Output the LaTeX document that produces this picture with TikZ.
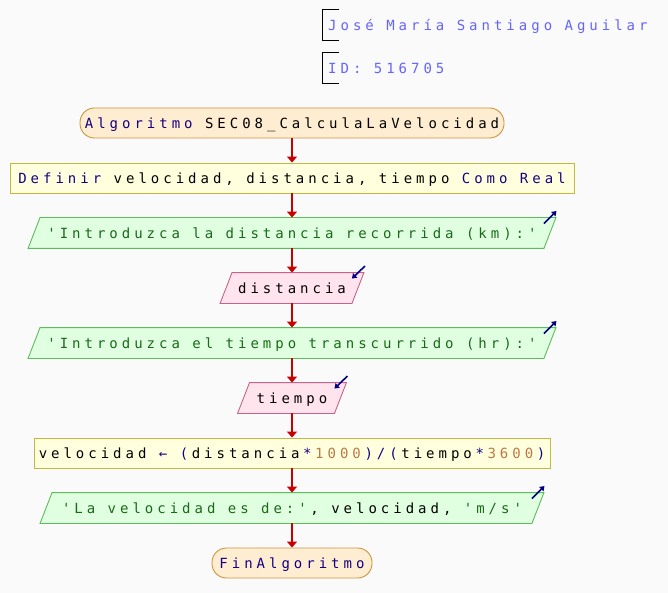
\documentclass[tikz,border=0pt]{standalone}
\usepackage{fontspec}
\setmonofont[LetterSpace=28.5]{DejaVu Sans Mono}
\usetikzlibrary{arrows.meta,backgrounds,calc}
\definecolor{bgc}{RGB}{250,250,250}
\definecolor{termfill}{RGB}{255,237,210}
\definecolor{termdraw}{RGB}{204,150,64}
\definecolor{procfill}{RGB}{255,255,221}
\definecolor{procdraw}{RGB}{192,186,64}
\definecolor{outfill}{RGB}{224,255,224}
\definecolor{outdraw}{RGB}{90,190,90}
\definecolor{infill}{RGB}{255,228,238}
\definecolor{indraw}{RGB}{196,100,140}
\definecolor{kwc}{RGB}{20,0,130}
\definecolor{strc}{RGB}{25,105,25}
\definecolor{numc}{RGB}{190,120,70}
\definecolor{cmtc}{RGB}{100,100,255}
\definecolor{flowc}{RGB}{200,0,0}
\definecolor{iconc}{RGB}{0,0,128}
\newcommand\kw[1]{\textcolor{kwc}{#1}}
\newcommand\st[1]{\textcolor{strc}{#1}}
\newcommand\nm[1]{\textcolor{numc}{#1}}
\newcommand\lsk{\kern3.6pt}
\tikzset{
  base/.style={minimum height=30pt, inner sep=0pt, line width=0.9pt, text=black, text height=10.2pt, text depth=0pt},
  term/.style={base, draw=termdraw, fill=termfill, rounded corners=14.5pt},
  proc/.style={base, draw=procdraw, fill=procfill},
  iobox/.style={base},
  outshape/.style={draw=outdraw, fill=outfill, line width=0.9pt},
  inshape/.style={draw=indraw, fill=infill, line width=0.9pt},
  flow/.style={draw=flowc, line width=1.4pt, -{Triangle[length=6pt,width=10pt]}},
  icon/.style={draw=iconc, line width=1.6pt, -{Triangle[length=4.5pt,width=6pt]}},
  cmt/.style={anchor=west, minimum height=30pt, inner xsep=6pt, inner ysep=0pt, text=cmtc, text height=10.2pt, text depth=0pt},
  bracket/.style={draw=black, line width=0.9pt}
}
\newcommand\para[2]{%
  \begin{scope}[on background layer]
  \path[#2] ($(#1.north west)+(6,0)$) -- ($(#1.north east)+(6,0)$) -- ($(#1.south east)+(-6,0)$) -- ($(#1.south west)+(-6,0)$) -- cycle;
  \end{scope}}
\begin{document}
\begin{tikzpicture}[x=1pt,y=-1pt,font=\ttfamily\fontsize{14}{17}\selectfont]
\begin{scope}[on background layer]
\fill[bgc] (0,0) rectangle (668,593);
\end{scope}
\useasboundingbox (0,0) rectangle (668,593);

% comments
\node[cmt] (c1) at (322,25) {José María Santiago Aguilar};
\node[cmt] (c2) at (322,68) {ID: 516705};
\draw[bracket] ($(c1.north west)+(17,0)$) -- (c1.north west) -- (c1.south west) -- ($(c1.south west)+(17,0)$);
\draw[bracket] ($(c2.north west)+(17,0)$) -- (c2.north west) -- (c2.south west) -- ($(c2.south west)+(17,0)$);

% nodes
\node[term, minimum width=424pt] (start) at (292,123) {\kw{Algoritmo} SEC08\_CalculaLaVelocidad};
\node[proc, minimum width=564pt] (def) at (292,178) {\kw{Definir} velocidad, distancia, tiempo \kw{Como Real}};
\node[iobox, minimum width=515pt] (o1) at (292,233) {\st{'Introduzca la distancia recorrida (km):'}};
\para{o1}{outshape}
\node[iobox, minimum width=131pt] (i1) at (292,288) {distancia};
\para{i1}{inshape}
\node[iobox, minimum width=515pt] (o2) at (292,343) {\st{'Introduzca el tiempo transcurrido (hr):'}};
\para{o2}{outshape}
\node[iobox, minimum width=96pt] (i2) at (292,398) {tiempo};
\para{i2}{inshape}
\node[proc, minimum width=516pt] (asg) at (292,453) {velocidad \kw{← (}\lsk distancia\lsk\kw{*}\lsk\nm{1000}\lsk\kw{)/(}\lsk tiempo\lsk\kw{*}\lsk\nm{3600}\lsk\kw{)}};
\node[iobox, minimum width=491pt] (o3) at (292,508) {\st{'La velocidad es de:'}\lsk, velocidad, \st{'m/s'}};
\para{o3}{outshape}
\node[term, minimum width=160pt] (fin) at (292,563) {\kw{FinAlgoritmo}};

% icons
\draw[icon] ($(o1.north east)+(-6,6)$) -- ($(o1.north east)+(6.5,-6.5)$);
\draw[icon] ($(o2.north east)+(-6,6)$) -- ($(o2.north east)+(6.5,-6.5)$);
\draw[icon] ($(o3.north east)+(-6,6)$) -- ($(o3.north east)+(6.5,-6.5)$);
\draw[icon] ($(i1.north east)+(7,-6.5)$) -- ($(i1.north east)+(-6,6)$);
\draw[icon] ($(i2.north east)+(7,-6.5)$) -- ($(i2.north east)+(-6,6)$);

% flow
\draw[flow] (start) -- (def);
\draw[flow] (def) -- (o1);
\draw[flow] (o1) -- (i1);
\draw[flow] (i1) -- (o2);
\draw[flow] (o2) -- (i2);
\draw[flow] (i2) -- (asg);
\draw[flow] (asg) -- (o3);
\draw[flow] (o3) -- (fin);
\end{tikzpicture}
\end{document}
